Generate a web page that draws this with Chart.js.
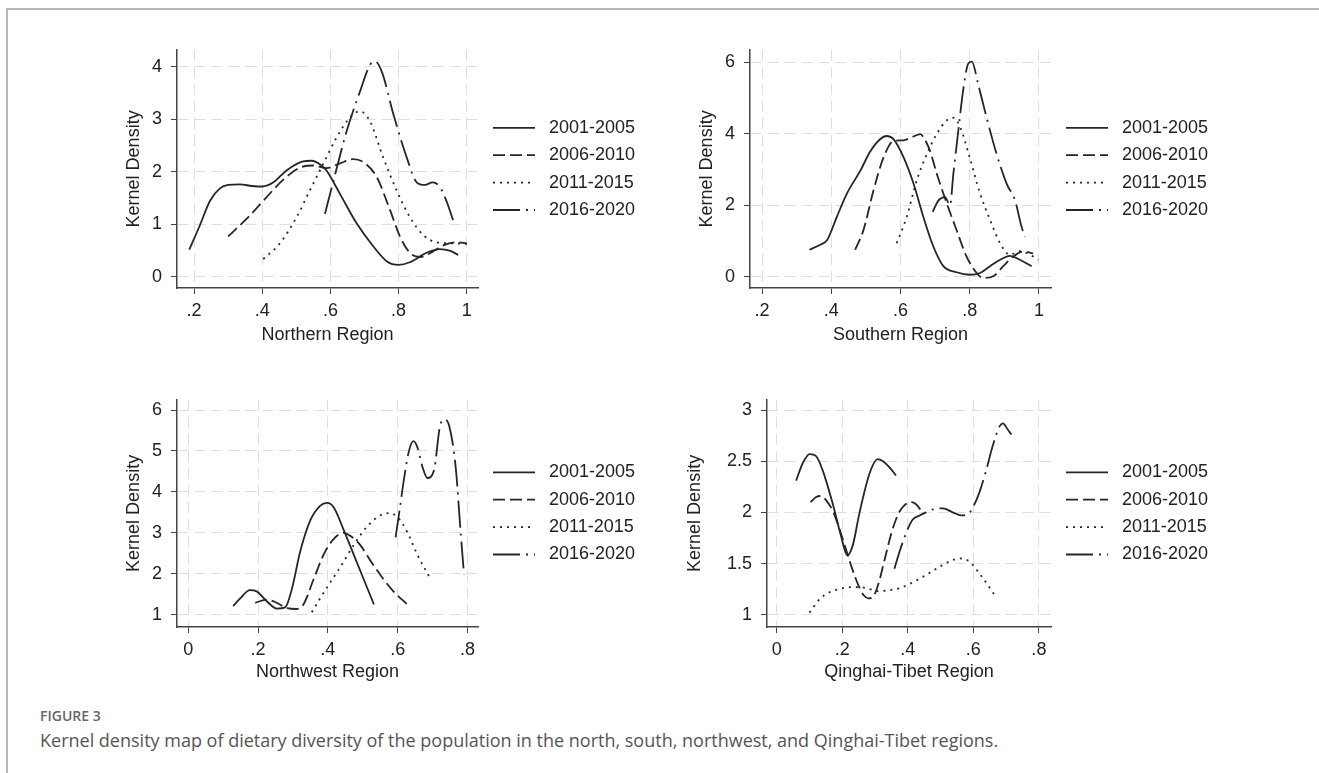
<!DOCTYPE html>
<html>
<head>
<meta charset="utf-8">
<script src="https://cdn.jsdelivr.net/npm/chart.js@4.4.1/dist/chart.umd.min.js"></script>
<style>
  body { margin: 0; background: #fff; }
  #page { position: relative; width: 1319px; height: 773px; overflow: hidden; }
  #frame { position: absolute; left: 6px; top: 8px; width: 1313px; height: 765px;
           border-top: 2px solid #b8b8b8; border-left: 2px solid #b8b8b8; }
  canvas { position: absolute; }
  .fig { position: absolute; left: 40px; top: 707px; font: 600 14px/18px 'Open Sans', sans-serif; color: #666; }
  .cap { position: absolute; left: 40px; top: 729px; font: 18px/23px 'Open Sans', sans-serif; color: #555; }
</style>
</head>
<body>
<div id="page">
  <div id="frame"></div>
  <canvas id="north" width="570" height="320" style="left:100px;top:30px"></canvas>
  <canvas id="south" width="570" height="320" style="left:670px;top:30px"></canvas>
  <canvas id="northwest" width="570" height="310" style="left:100px;top:380px"></canvas>
  <canvas id="tibet" width="570" height="310" style="left:670px;top:380px"></canvas>
  <div class="fig">FIGURE 3</div>
  <div class="cap">Kernel density map of dietary diversity of the population in the north, south, northwest, and Qinghai-Tibet regions.</div>
</div>
<script>
const periods = ['2001-2005', '2006-2010', '2011-2015', '2016-2020'];

// Northern Region
const north2001 = [[.186,.52],[.215,.95],[.247,1.45],[.275,1.68],[.30,1.75],[.335,1.76],[.37,1.73],[.40,1.72],[.433,1.80],[.472,2.03],[.52,2.20],[.545,2.21],[.57,2.14],[.589,2.02],[.628,1.58],[.677,1.02],[.726,.58],[.765,.30],[.80,.23],[.833,.28],[.882,.46],[.921,.53],[.95,.50],[.975,.42]];
const north2006 = [[.30,.77],[.364,1.17],[.413,1.52],[.462,1.85],[.511,2.08],[.55,2.12],[.589,2.07],[.628,2.16],[.667,2.24],[.70,2.17],[.736,1.9],[.775,1.27],[.804,.77],[.833,.46],[.863,.38],[.892,.45],[.931,.60],[.97,.66],[1.0,.64]];
const north2011 = [[.403,.34],[.452,.64],[.501,1.14],[.54,1.65],[.579,2.15],[.618,2.65],[.657,3.03],[.687,3.15],[.716,2.96],[.755,2.27],[.794,1.65],[.833,1.14],[.872,.80],[.912,.66],[.96,.64],[1.0,.63]];
const north2016 = [[.584,1.2],[.609,1.83],[.648,2.78],[.687,3.53],[.716,4.03],[.731,4.1],[.751,3.9],[.785,3.09],[.824,2.27],[.853,1.8],[.877,1.75],[.9,1.8],[.92,1.72],[.94,1.45],[.96,1.08]];

// Southern Region
const south2001 = [[.337,.76],[.368,.9],[.388,1.03],[.416,1.68],[.445,2.33],[.484,2.97],[.512,3.5],[.541,3.85],[.56,3.94],[.58,3.85],[.609,3.34],[.638,2.6],[.666,1.68],[.695,.85],[.724,.3],[.762,.13],[.80,.06],[.83,.11],[.859,.3],[.888,.48],[.916,.59],[.945,.48],[.979,.3]];
const south2006 = [[.469,.76],[.493,1.31],[.522,2.42],[.551,3.34],[.58,3.8],[.609,3.82],[.633,3.91],[.657,3.99],[.666,3.91],[.685,3.53],[.705,2.88],[.734,2.05],[.762,1.31],[.791,.57],[.82,.11],[.839,-.03],[.868,.02],[.897,.3],[.926,.57],[.955,.71],[.983,.66]];
const south2011 = [[.589,.94],[.618,1.68],[.647,2.7],[.676,3.43],[.705,4.0],[.734,4.38],[.753,4.45],[.772,4.2],[.80,3.34],[.83,2.33],[.859,1.59],[.888,.94],[.916,.62],[.945,.72],[.974,.62],[.998,.48]];
const south2016 = [[.693,1.82],[.71,2.14],[.729,2.23],[.743,2.0],[.753,2.9],[.767,4.08],[.782,5.28],[.796,5.97],[.806,6.02],[.825,5.37],[.849,4.45],[.878,3.43],[.907,2.6],[.931,2.14],[.95,1.4],[.96,1.12]];

// Northwest Region
const nw2001 = [[.129,1.21],[.149,1.4],[.177,1.6],[.196,1.57],[.225,1.33],[.254,1.15],[.278,1.18],[.297,1.63],[.321,2.55],[.35,3.31],[.378,3.66],[.398,3.73],[.417,3.62],[.445,3.08],[.474,2.47],[.503,1.86],[.532,1.25]];
const nw2006 = [[.192,1.29],[.225,1.37],[.254,1.29],[.283,1.16],[.311,1.14],[.33,1.25],[.359,1.86],[.388,2.47],[.417,2.85],[.445,3.0],[.464,2.93],[.493,2.7],[.522,2.32],[.56,1.86],[.589,1.56],[.628,1.25]];
const nw2011 = [[.354,1.06],[.378,1.4],[.407,1.79],[.436,2.17],[.474,2.7],[.513,3.16],[.551,3.43],[.575,3.48],[.599,3.39],[.628,3.01],[.656,2.47],[.695,1.86]];
const nw2016 = [[.594,2.89],[.604,3.47],[.618,4.31],[.632,4.99],[.645,5.24],[.656,5.1],[.671,4.61],[.685,4.34],[.704,4.53],[.721,5.6],[.733,5.77],[.748,5.6],[.766,4.61],[.781,2.93],[.79,1.98]];

// Qinghai-Tibet Region
const qt2001 = [[.059,2.31],[.079,2.48],[.1,2.57],[.12,2.55],[.14,2.41],[.171,2.08],[.196,1.77],[.215,1.58],[.232,1.68],[.252,1.99],[.283,2.38],[.308,2.52],[.324,2.5],[.344,2.44],[.364,2.36]];
const qt2006 = [[.103,2.10],[.12,2.15],[.135,2.16],[.15,2.12],[.17,2.02],[.19,1.85],[.21,1.65],[.23,1.45],[.25,1.28],[.265,1.19],[.28,1.16],[.295,1.18],[.31,1.3],[.33,1.55],[.35,1.8],[.37,1.98],[.39,2.07],[.41,2.1],[.425,2.08],[.44,2.02]];
const qt2011 = [[.1,1.02],[.13,1.15],[.161,1.22],[.191,1.25],[.222,1.27],[.252,1.27],[.283,1.25],[.313,1.23],[.344,1.24],[.375,1.26],[.405,1.3],[.446,1.37],[.487,1.45],[.527,1.52],[.558,1.55],[.588,1.52],[.619,1.4],[.644,1.29],[.665,1.19]];
const qt2016 = [[.359,1.45],[.375,1.62],[.395,1.8],[.415,1.93],[.436,1.97],[.456,2.0],[.477,2.03],[.507,2.04],[.537,2.0],[.563,1.97],[.583,1.98],[.599,2.05],[.619,2.2],[.639,2.41],[.66,2.66],[.68,2.84],[.69,2.87],[.705,2.81],[.716,2.76]];

// tick labels
const xTicksHigh = [.2, .4, .6, .8, 1];
const xTicksLow = [0, .2, .4, .6, .8];
const northYTicks = [0, 1, 2, 3, 4];
const southYTicks = [0, 2, 4, 6];
const nwYTicks = [1, 2, 3, 4, 5, 6];
const qtYTicks = [1, 1.5, 2, 2.5, 3];

const dashes = [[], [12, 5], [2, 5], [27, 6, 2, 6]];
const font = "'Liberation Sans', Arial, sans-serif";
Chart.defaults.font.family = font;
Chart.defaults.font.size = 18;
Chart.defaults.color = '#222';

function fmt(v) {
  if (v === 0) return '0';
  return String(Math.round(v * 100) / 100).replace(/^0\./, '.');
}

// stata-style legend to the right of the plot
const sideLegend = {
  id: 'sideLegend',
  afterDraw(chart) {
    const {ctx, chartArea} = chart;
    const mid = (chartArea.top + chartArea.bottom) / 2;
    chart.data.datasets.forEach((ds, i) => {
      const y = mid + (i - 1.5) * 27.4;
      const x = chartArea.right + 15;
      ctx.save();
      ctx.strokeStyle = ds.borderColor;
      ctx.lineWidth = ds.borderWidth;
      ctx.setLineDash(ds.borderDash);
      ctx.beginPath();
      ctx.moveTo(x, y);
      ctx.lineTo(x + 42, y);
      ctx.stroke();
      ctx.setLineDash([]);
      ctx.fillStyle = '#222';
      ctx.font = '18px ' + font;
      ctx.textBaseline = 'middle';
      ctx.fillText(ds.label, x + 56, y);
      ctx.restore();
    });
  }
};

function panel(id, series, xTitle, xr, yr, xTicks, yTicks, lay) {
  new Chart(document.getElementById(id), {
    type: 'line',
    data: {
      datasets: series.map((s, i) => ({
        label: periods[i],
        data: s.map(p => ({x: p[0], y: p[1]})),
        borderColor: '#262626',
        borderWidth: 1.8,
        borderDash: dashes[i],
        pointRadius: 0,
        fill: false,
        cubicInterpolationMode: 'monotone'
      }))
    },
    options: {
      responsive: false,
      animation: false,
      devicePixelRatio: 1,
      layout: { padding: { left: lay.pl, right: lay.pr, top: lay.pt, bottom: 0 } },
      plugins: { legend: { display: false }, tooltip: { enabled: false } },
      scales: {
        x: {
          type: 'linear', min: xr[0], max: xr[1],
          afterBuildTicks: a => { a.ticks = xTicks.map(v => ({value: v})); },
          afterFit: a => { a.height = lay.xh; },
          ticks: { callback: fmt, padding: 6, maxRotation: 0, color: '#222' },
          grid: { color: '#dedede', lineWidth: 1, tickLength: 6, tickColor: '#444', tickBorderDash: [] },
          border: { color: '#444', width: 1.5, dash: [11, 6] },
          title: { display: true, text: xTitle, padding: { top: 0, bottom: lay.tb }, color: '#222' }
        },
        y: {
          min: yr[0], max: yr[1],
          afterBuildTicks: a => { a.ticks = yTicks.map(v => ({value: v})); },
          afterFit: a => { a.width = lay.yw; },
          ticks: { callback: fmt, padding: 9, color: '#222' },
          grid: { color: '#dedede', lineWidth: 1, tickLength: 6, tickColor: '#444', tickBorderDash: [] },
          border: { color: '#444', width: 1.5, dash: [11, 6] },
          title: { display: true, text: 'Kernel Density', padding: { top: 3, bottom: 3 }, color: '#222' }
        }
      }
    },
    plugins: [sideLegend]
  });
}

panel('north', [north2001, north2006, north2011, north2016], 'Northern Region',
  [0.15, 1.033], [-0.21, 4.32], xTicksHigh, northYTicks, {pl: 20, pr: 192, pt: 18, yw: 57, xh: 62, tb: 4});
panel('south', [south2001, south2006, south2011, south2016], 'Southern Region',
  [0.165, 1.035], [-0.31, 6.35], xTicksHigh, southYTicks, {pl: 23, pr: 189, pt: 18, yw: 57, xh: 62, tb: 4});
panel('northwest', [nw2001, nw2006, nw2011, nw2016], 'Northwest Region',
  [-0.032, 0.83], [0.70, 6.25], xTicksLow, nwYTicks, {pl: 20, pr: 192, pt: 5, yw: 57, xh: 63, tb: 7});
panel('tibet', [qt2001, qt2006, qt2011, qt2016], 'Qinghai-Tibet Region',
  [-0.03, 0.837], [0.88, 3.1], xTicksLow, qtYTicks, {pl: 11, pr: 189, pt: 5, yw: 86, xh: 63, tb: 7});
</script>
</body>
</html>
